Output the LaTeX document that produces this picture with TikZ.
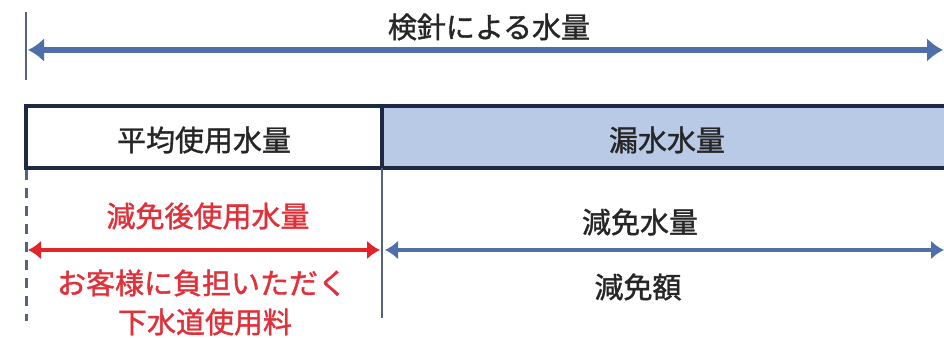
\documentclass[tikz,border=0pt]{standalone}
\usepackage{fontspec}
\setmainfont{Noto Sans CJK JP}[FakeBold=1.3]
\usetikzlibrary{arrows.meta}
\definecolor{arrowblue}{HTML}{4F6FA8}
\definecolor{boxline}{HTML}{1E2A44}
\definecolor{boxfill}{HTML}{B9CAE6}
\definecolor{guide}{HTML}{566278}
\definecolor{redtxt}{HTML}{E0303A}
\definecolor{redarrow}{HTML}{E02428}
\tikzset{
  lbl/.style={inner sep=0pt, font=\fontsize{29}{34}\selectfont, text=black!85},
  redlbl/.style={lbl, text=redtxt},
  bigarrow/.style={arrowblue, line width=5.5pt, {Latex[length=16pt,width=24pt]}-{Latex[length=16pt,width=24pt]}},
  midarrow/.style={line width=4pt, {Latex[length=13pt,width=19pt]}-{Latex[length=13pt,width=19pt]}},
  guideline/.style={guide, line width=2pt},
  boxbase/.style={draw=boxline, line width=4.5pt, minimum height=62pt, inner sep=0pt}
}
\begin{document}
\begin{tikzpicture}[x=1pt,y=1pt]
\useasboundingbox (0,0) rectangle (944,337);
\clip (0,0) rectangle (944,337);
\fill[white] (0,0) rectangle (944,337);
% top guide and arrow
\coordinate (tg1) at (26,325);
\coordinate (tg2) at (26,257);
\draw[guideline] (tg1) -- (tg2);
\coordinate (ta1) at (28,287);
\coordinate (ta2) at (943,287);
\draw[bigarrow] (ta1) -- (ta2);
\node[lbl] (top) at (489,310) {検針による水量};
% boxes
\node[boxbase, fill=boxfill, minimum width=600pt] (leak) at (682,200) {};
\node[boxbase, fill=white, minimum width=356pt] (avg) at (204,200) {};
\node[lbl] at (avg.center) [yshift=-3pt] {平均使用水量};
\node[lbl] (leaktxt) at (667,197) {漏水水量};
% guides below
\coordinate (dg1) at (26,167);
\coordinate (dg2) at (26,16);
\draw[guide, line width=3pt, dash pattern=on 10pt off 8pt] (dg1) -- (dg2);
\coordinate (sg1) at (382,169);
\coordinate (sg2) at (382,19);
\draw[guideline] (sg1) -- (sg2);
% arrows
\coordinate (ra1) at (28,87);
\coordinate (ra2) at (380,87);
\draw[midarrow, redarrow] (ra1) -- (ra2);
\coordinate (ba1) at (385,87);
\coordinate (ba2) at (944,87);
\draw[midarrow, arrowblue] (ba1) -- (ba2);
% labels
\node[redlbl] (after) at (208,121) {減免後使用水量};
\node[redlbl] (cust) at (202,54) {お客様に負担いただく};
\node[redlbl] (sewer) at (205,15) {下水道使用料};
\node[lbl] (redwater) at (640,115) {減免水量};
\node[lbl] (redamt) at (638,50) {減免額};
\end{tikzpicture}
\end{document}
